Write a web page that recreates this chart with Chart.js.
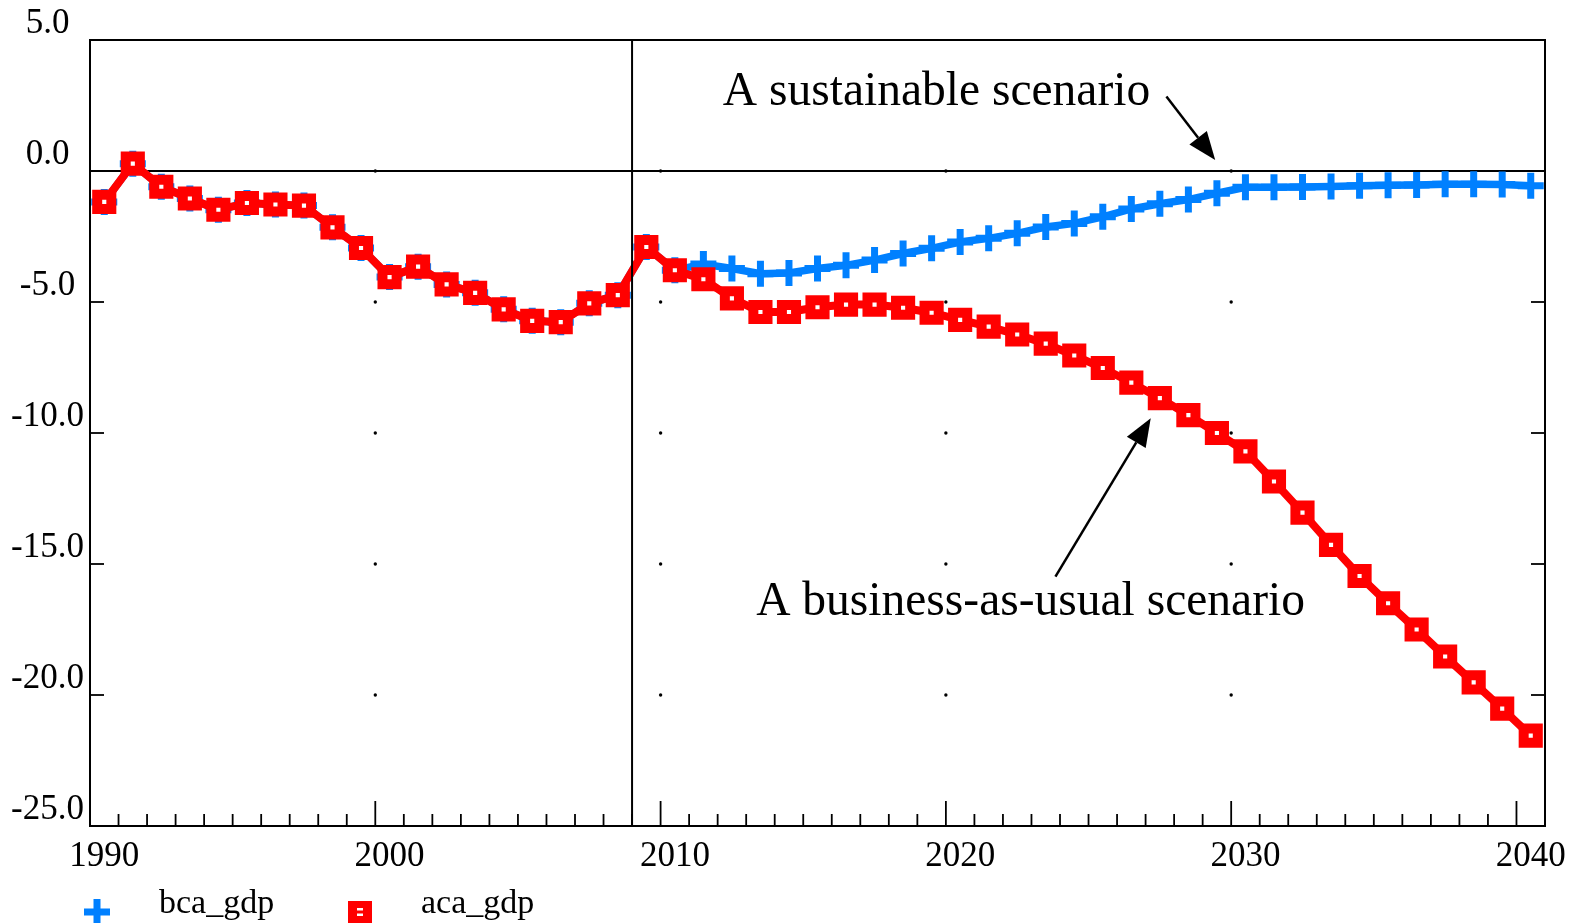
<!DOCTYPE html>
<html><head><meta charset="utf-8">
<script src="https://cdn.jsdelivr.net/npm/chart.js@4.4.0/dist/chart.umd.min.js"></script>
<style>html,body{margin:0;padding:0;background:#fff;} #wrap{width:1575px;height:923px;position:relative;}</style>
</head><body><div id="wrap"><canvas id="c"></canvas></div>
<script>
const years = [1990,1991,1992,1993,1994,1995,1996,1997,1998,1999,
  2000,2001,2002,2003,2004,2005,2006,2007,2008,2009,
  2010,2011,2012,2013,2014,2015,2016,2017,2018,2019,
  2020,2021,2022,2023,2024,2025,2026,2027,2028,2029,
  2030,2031,2032,2033,2034,2035,2036,2037,2038,2039,2040];
const bcaGdp = [-1.18,0.28,-0.60,-1.05,-1.48,-1.22,-1.28,-1.32,-2.15,-2.94,
  -4.05,-3.65,-4.33,-4.65,-5.28,-5.72,-5.77,-5.05,-4.74,-2.90,
  -3.79,-3.55,-3.72,-3.92,-3.89,-3.72,-3.60,-3.40,-3.15,-2.95,
  -2.71,-2.57,-2.38,-2.14,-2.00,-1.75,-1.45,-1.25,-1.09,-0.85,
  -0.62,-0.62,-0.61,-0.59,-0.56,-0.54,-0.53,-0.51,-0.51,-0.52,-0.56];
const acaGdp = [-1.18,0.28,-0.60,-1.05,-1.48,-1.22,-1.28,-1.32,-2.15,-2.94,
  -4.05,-3.65,-4.33,-4.65,-5.28,-5.72,-5.77,-5.05,-4.74,-2.90,
  -3.79,-4.13,-4.86,-5.38,-5.38,-5.20,-5.10,-5.10,-5.22,-5.41,
  -5.68,-5.94,-6.24,-6.59,-7.04,-7.52,-8.08,-8.67,-9.32,-10.00,
  -10.70,-11.85,-13.04,-14.27,-15.46,-16.50,-17.50,-18.53,-19.52,-20.52,-21.55];
const seriesNames = ['bca_gdp','aca_gdp'];
const xTickLabels = [1990,2000,2010,2020,2030,2040];
const yTickLabels = [5,0,-5,-10,-15,-20,-25];
const splitYear = 2009;
const annotations = [
  {text:'A sustainable scenario', at:[2012.18,2.52], from:[2027.73,2.84], to:[2029.44,0.42]},
  {text:'A business-as-usual scenario', at:[2013.35,-16.95], from:[2023.84,-15.48], to:[2027.18,-9.44]}
];

const BLUE = 'rgb(0,128,255)';
const RED = '#ff0000';
const FONT = '"Liberation Serif", "Times New Roman", serif';

const framePlugin = {
  id:'frame',
  beforeDatasetsDraw(chart){
    const {ctx, scales:{x,y}} = chart;
    ctx.save();
    ctx.fillStyle = '#000';
    const xs = xTickLabels.filter(v => v > x.min && v < 2040);
    const ys = yTickLabels.filter(v => v < y.max && v > y.min);
    for (const xv of xs) for (const yv of ys) {
      ctx.beginPath();
      ctx.arc(x.getPixelForValue(xv), y.getPixelForValue(yv), 1.7, 0, Math.PI*2);
      ctx.fill();
    }
    ctx.restore();
  },
  afterDatasetsDraw(chart){
    const {ctx, chartArea:a, scales:{x,y}} = chart;
    ctx.save();
    ctx.strokeStyle = '#000';
    ctx.lineWidth = 2;
    const sx = x.getPixelForValue(splitYear);
    ctx.beginPath(); ctx.moveTo(sx, a.top); ctx.lineTo(sx, a.bottom); ctx.stroke();
    ctx.lineWidth = 1.8;
    for (let v = Math.ceil(x.min); v <= x.max; v++) {
      const px = x.getPixelForValue(v);
      const len = xTickLabels.includes(v) ? 25 : 12;
      ctx.beginPath(); ctx.moveTo(px, a.bottom); ctx.lineTo(px, a.bottom - len); ctx.stroke();
    }
    for (const v of yTickLabels) {
      const py = y.getPixelForValue(v);
      ctx.beginPath(); ctx.moveTo(a.left, py); ctx.lineTo(a.left + 14, py); ctx.stroke();
      ctx.beginPath(); ctx.moveTo(a.right, py); ctx.lineTo(a.right - 14, py); ctx.stroke();
    }
    ctx.lineWidth = 2;
    ctx.strokeRect(a.left, a.top, a.right - a.left, a.bottom - a.top);
    ctx.restore();
  },
  afterDraw(chart){
    const {ctx, scales:{x,y}} = chart;
    ctx.save();
    ctx.fillStyle = '#000'; ctx.strokeStyle = '#000';
    ctx.font = '47.5px ' + FONT;
    ctx.textBaseline = 'alphabetic'; ctx.textAlign = 'left';
    for (const an of annotations) {
      ctx.fillText(an.text, x.getPixelForValue(an.at[0]), y.getPixelForValue(an.at[1]));
      const x1 = x.getPixelForValue(an.from[0]), y1 = y.getPixelForValue(an.from[1]);
      const x2 = x.getPixelForValue(an.to[0]), y2 = y.getPixelForValue(an.to[1]);
      const ang = Math.atan2(y2 - y1, x2 - x1);
      const hl = 28, hw = 11;
      const bx = x2 - hl*Math.cos(ang), by = y2 - hl*Math.sin(ang);
      ctx.lineWidth = 2.5;
      ctx.beginPath(); ctx.moveTo(x1, y1); ctx.lineTo(bx, by); ctx.stroke();
      ctx.beginPath();
      ctx.moveTo(x2, y2);
      ctx.lineTo(bx + hw*Math.sin(ang), by - hw*Math.cos(ang));
      ctx.lineTo(bx - hw*Math.sin(ang), by + hw*Math.cos(ang));
      ctx.closePath(); ctx.fill();
    }
    const layout = [{m:97, t:159}, {m:360, t:421}];
    const my = 912, ty = 913;
    ctx.font = '34px ' + FONT;
    chart.data.datasets.forEach((ds, i) => {
      const L = layout[i];
      if (ds.pointStyle === 'cross') {
        ctx.strokeStyle = ds.borderColor; ctx.lineWidth = 7;
        ctx.beginPath(); ctx.moveTo(L.m - 13, my); ctx.lineTo(L.m + 13, my);
        ctx.moveTo(L.m, my - 13); ctx.lineTo(L.m, my + 13); ctx.stroke();
      } else {
        ctx.fillStyle = ds.borderColor; ctx.fillRect(L.m - 12, my - 11, 24, 22);
        ctx.fillStyle = '#fff';
        ctx.fillRect(L.m - 3, my - 4, 6, 2.5);
        ctx.fillRect(L.m - 3, my + 1.5, 6, 2.5);
      }
      ctx.fillStyle = '#000';
      ctx.fillText(ds.label, L.t, ty);
    });
    ctx.restore();
  }
};

new Chart(document.getElementById('c'), {
  type:'line',
  data:{ datasets:[
    { label: seriesNames[0], data: years.map((yr,i)=>({x: yr + 0.5, y: bcaGdp[i]})),
      borderColor: BLUE, backgroundColor: BLUE, borderWidth: 7.5, tension: 0,
      pointStyle:'cross', pointRadius: 13, pointBorderWidth: 7, pointBorderColor: BLUE,
      pointHoverRadius: 13, order: 1 },
    { label: seriesNames[1], data: years.map((yr,i)=>({x: yr + 0.5, y: acaGdp[i]})),
      borderColor: RED, backgroundColor: RED, borderWidth: 8, tension: 0,
      pointStyle:'rect', pointRadius: 10, pointBorderWidth: 10, pointBorderColor: RED,
      pointBackgroundColor:'#ffffff', pointHoverRadius: 10, order: 0 }
  ]},
  options:{
    responsive:true, maintainAspectRatio:false, animation:false,
    layout:{padding:{left:0, right:30, top:40, bottom:0}},
    plugins:{legend:{display:false}, tooltip:{enabled:false}, title:{display:false}},
    scales:{
      x:{ type:'linear', min:1990, max:2041,
        afterBuildTicks: s => { s.ticks = xTickLabels.map(v => ({value:v})); },
        afterFit: s => { s.height = 97; },
        grid:{display:false, drawTicks:false}, border:{display:false},
        ticks:{ callback: v => String(v), color:'#000', font:{family:FONT, size:35},
          padding:10, labelOffset:14.3, maxRotation:0, autoSkip:false } },
      y:{ type:'linear', min:-25, max:5,
        afterBuildTicks: s => { s.ticks = yTickLabels.map(v => ({value:v})); },
        afterFit: s => { s.width = 90; },
        grid:{ drawTicks:false, lineWidth:2,
          color: c => (c.tick && c.tick.value === 0) ? '#000' : 'rgba(0,0,0,0)' },
        border:{display:false},
        ticks:{ callback: v => Number(v).toFixed(1), color:'#000', font:{family:FONT, size:35},
          padding:6, crossAlign:'center', labelOffset:-16, autoSkip:false } }
    }
  },
  plugins:[framePlugin]
});
</script></body></html>
